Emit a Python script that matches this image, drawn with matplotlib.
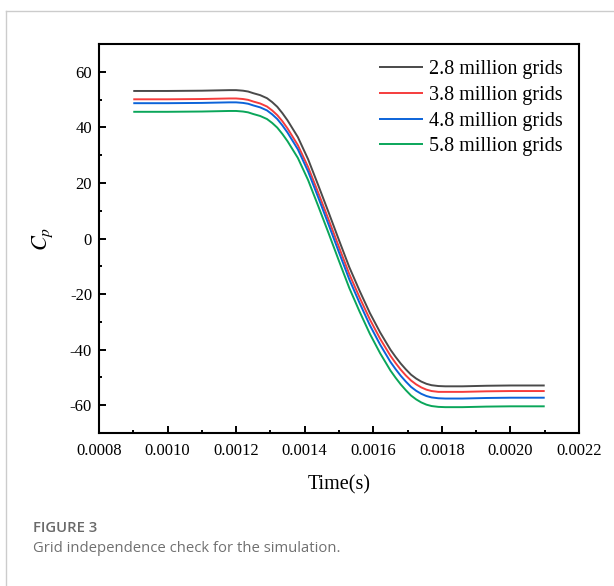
import matplotlib
matplotlib.use("Agg")
import matplotlib.pyplot as plt
from matplotlib.lines import Line2D
from matplotlib.ticker import MultipleLocator, FormatStrFormatter

plt.rcParams["font.family"] = ["Liberation Serif", "DejaVu Serif"]
plt.rcParams["mathtext.fontset"] = "stix"

# time history of the pressure coefficient for each mesh
time_s = [0.00090, 0.00100, 0.00110, 0.00118, 0.00120, 0.00122, 0.001235,
          0.00125, 0.00127, 0.00129, 0.001305, 0.00132, 0.001335, 0.00135,
          0.00138, 0.00141, 0.00144, 0.00147, 0.00150, 0.00153, 0.00156,
          0.00159, 0.00162, 0.00165, 0.001665, 0.00168, 0.001695, 0.00171,
          0.001725, 0.00174, 0.001755, 0.00177, 0.00179, 0.00181, 0.00186,
          0.00193, 0.00200, 0.00210]
cp_2_8m = [53.1, 53.1, 53.2, 53.4, 53.4, 53.2, 52.9, 52.3, 51.6, 50.5, 49.1,
           47.4, 45.1, 42.5, 36.5, 28.5, 19.0, 9.3, -0.6, -10.3, -18.8, -26.8,
           -33.8, -40.0, -42.6, -45.0, -47.1, -49.0, -50.4, -51.5, -52.3,
           -52.8, -53.1, -53.2, -53.2, -53.0, -52.9, -52.9]
cp_3_8m = [50.1, 50.1, 50.2, 50.4, 50.4, 50.2, 49.9, 49.3, 48.6, 47.5, 46.1,
           44.4, 42.2, 39.6, 33.6, 25.7, 16.3, 6.7, -3.1, -12.8, -21.2, -29.1,
           -36.1, -42.2, -44.8, -47.2, -49.3, -51.1, -52.5, -53.6, -54.4,
           -54.9, -55.2, -55.2, -55.2, -55.0, -54.9, -54.9]
cp_4_8m = [48.7, 48.7, 48.8, 49.0, 49.0, 48.8, 48.5, 47.9, 47.2, 46.1, 44.7,
           43.0, 40.7, 38.1, 32.1, 24.1, 14.6, 4.9, -5.0, -14.7, -23.2, -31.2,
           -38.2, -44.4, -47.0, -49.4, -51.5, -53.4, -54.8, -55.9, -56.7,
           -57.2, -57.5, -57.6, -57.6, -57.4, -57.3, -57.3]
cp_5_8m = [45.6, 45.6, 45.7, 45.9, 45.9, 45.7, 45.4, 44.8, 44.1, 43.0, 41.6,
           39.9, 37.6, 35.0, 29.0, 21.0, 11.5, 1.8, -8.1, -17.8, -26.3, -34.3,
           -41.3, -47.5, -50.1, -52.5, -54.6, -56.5, -57.9, -59.0, -59.8,
           -60.3, -60.6, -60.7, -60.7, -60.5, -60.4, -60.4]

labels = ["2.8 million grids", "3.8 million grids",
          "4.8 million grids", "5.8 million grids"]
colors = ["#4a4a4a", "#f53c3c", "#0b63d9", "#0aa65a"]

fig = plt.figure(figsize=(6.14, 5.86), dpi=100)
ax = fig.add_axes([0.1612, 0.2611, 0.7818, 0.6638])

for cp, lab, col in zip([cp_2_8m, cp_3_8m, cp_4_8m, cp_5_8m], labels, colors):
    ax.plot(time_s, cp, color=col, lw=1.4, label=lab,
            solid_joinstyle="round", solid_capstyle="butt")

ax.set_xlim(0.0008, 0.0022)
ax.set_ylim(-70, 70)
ax.xaxis.set_major_locator(MultipleLocator(0.0002))
ax.xaxis.set_minor_locator(MultipleLocator(0.0001))
ax.xaxis.set_major_formatter(FormatStrFormatter("%.4f"))
ax.yaxis.set_major_locator(MultipleLocator(20))
ax.yaxis.set_minor_locator(MultipleLocator(10))
ax.yaxis.set_major_formatter(FormatStrFormatter("%d"))

ax.tick_params(which="both", direction="in", width=1.4, labelsize=12,
               top=False, right=False)
ax.tick_params(axis="x", which="major", length=5, pad=7)
ax.tick_params(axis="y", which="major", length=5, pad=5)
ax.tick_params(which="minor", length=2.5)
for sp in ax.spines.values():
    sp.set_linewidth(1.5)

ax.set_xlabel("Time(s)", fontsize=14.5, labelpad=12)
ax.set_ylabel(r"$C_p$", fontsize=16, labelpad=11)

ax.legend(loc="upper right", frameon=False, fontsize=14.5, handlelength=2.2,
          handletextpad=0.3, labelspacing=0.33, borderaxespad=0.4)

# card border and caption below the figure
fig.add_artist(Line2D([6 / 614, 1.0], [1 - 11 / 586, 1 - 11 / 586],
                      color="#cccccc", lw=1.0))
fig.add_artist(Line2D([6 / 614, 6 / 614], [0.0, 1 - 11 / 586],
                      color="#cccccc", lw=1.0))
fig.text(33 / 614, 1 - 528 / 586, "FIGURE 3", family="Open Sans",
         fontsize=10.7, fontweight="semibold", color="#6a6a6a", va="center")
fig.text(33 / 614, 1 - 548 / 586, "Grid independence check for the simulation.",
         family="Open Sans", fontsize=10.7, color="#707070", va="center")

fig.savefig("out.png", dpi=100)
